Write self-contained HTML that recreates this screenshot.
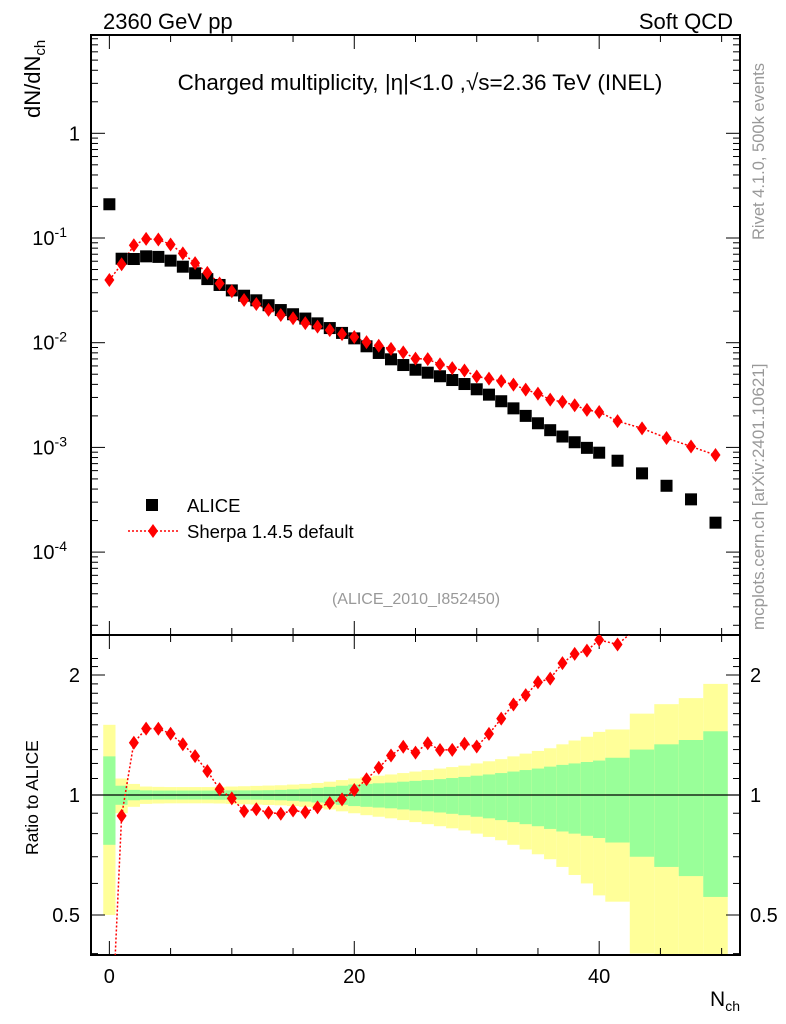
<!DOCTYPE html>
<html><head><meta charset="utf-8"><style>
html,body{margin:0;padding:0;background:#fff;overflow:hidden;width:786px;height:1024px;}
svg{display:block;font-family:"Liberation Sans",sans-serif;}
</style></head><body>
<svg id="chart" width="786" height="1024" viewBox="0 0 786 1024" xmlns="http://www.w3.org/2000/svg">
<g id="bands"></g>
<g id="grid"></g>
<g id="marks"></g>
<text x="103" y="29" font-size="22">2360 GeV pp</text>
<text x="733" y="29" font-size="22" text-anchor="end">Soft QCD</text>
<text x="420" y="90" font-size="22.5" text-anchor="middle">Charged multiplicity, |η|&lt;1.0 ,√s=2.36 TeV (INEL)</text>
<text x="416" y="604" font-size="16" fill="#999" text-anchor="middle">(ALICE_2010_I852450)</text>
<text transform="translate(764,240) rotate(-90)" font-size="16.5" fill="#999">Rivet 4.1.0,  500k events</text>
<text transform="translate(764,630) rotate(-90)" font-size="17" fill="#999">mcplots.cern.ch [arXiv:2401.10621]</text>
<text transform="translate(40,118) rotate(-90)" font-size="22">dN/dN<tspan font-size="15" dy="5">ch</tspan></text>
<text transform="translate(38,855) rotate(-90)" font-size="17.5">Ratio to ALICE</text>
<text x="725" y="1006" font-size="21" text-anchor="middle">N<tspan font-size="14" dy="5">ch</tspan></text>
<g>
<rect x="146" y="499" width="12" height="12" fill="#000"></rect>
<text x="187" y="512" font-size="18.5">ALICE</text>
<line x1="128" y1="531" x2="178" y2="531" stroke="red" stroke-width="1.5" stroke-dasharray="2,2"></line>
<polygon points="153,524 158,531 153,538 148,531" fill="red"></polygon>
<text x="187" y="538" font-size="18.5">Sherpa 1.4.5 default</text>
</g>
</svg>
<script>
const nch = [0,1,2,3,4,5,6,7,8,9,10,11,12,13,14,15,16,17,18,19,20,21,22,23,24,25,26,27,28,29,30,31,32,33,34,35,36,37,38,39,40,41.5,43.5,45.5,47.5,49.5];
const binWidth = [1,1,1,1,1,1,1,1,1,1,1,1,1,1,1,1,1,1,1,1,1,1,1,1,1,1,1,1,1,1,1,1,1,1,1,1,1,1,1,1,1,2,2,2,2,2];
const alice = [0.21,0.0634,0.063,0.0668,0.066,0.0608,0.0532,0.046,0.0405,0.0356,0.0316,0.0281,0.0254,0.0228,0.0205,0.0187,0.017,0.0153,0.0138,0.0124,0.011,0.00924,0.00798,0.00694,0.00612,0.00552,0.00517,0.00478,0.0044,0.00403,0.00359,0.00319,0.00276,0.00236,0.002,0.0017,0.00146,0.00127,0.00112,0.00099,0.00089,0.000746,0.000565,0.00043,0.000319,0.000191];
const sherpa = [0.0397,0.0562,0.0852,0.098,0.0968,0.0866,0.0713,0.0576,0.0465,0.0368,0.031,0.0256,0.0234,0.0206,0.0184,0.0171,0.0154,0.01424,0.01318,0.01209,0.01132,0.01012,0.00934,0.00872,0.00809,0.00705,0.00697,0.0062,0.00571,0.00542,0.00475,0.00454,0.00429,0.00398,0.00356,0.00326,0.00286,0.00272,0.00253,0.00228,0.00218,0.00178,0.00152,0.00123,0.00102,0.000845];
const errTotal = [0.5,0.1,0.066,0.05,0.048,0.047,0.047,0.047,0.047,0.048,0.05,0.052,0.054,0.056,0.058,0.062,0.066,0.072,0.08,0.09,0.1,0.11,0.118,0.126,0.135,0.145,0.155,0.165,0.175,0.185,0.2,0.215,0.23,0.25,0.27,0.29,0.31,0.34,0.37,0.4,0.44,0.46,0.6,0.69,0.75,0.9];
const errStat = [0.25,0.055,0.03,0.027,0.026,0.026,0.026,0.026,0.026,0.027,0.027,0.027,0.027,0.028,0.03,0.033,0.037,0.042,0.048,0.055,0.062,0.066,0.07,0.074,0.08,0.085,0.09,0.096,0.103,0.11,0.118,0.126,0.135,0.145,0.155,0.165,0.178,0.19,0.2,0.21,0.22,0.24,0.3,0.34,0.374,0.445];
const xTickLabels = [0,20,40];
const mainTickLabels = [["1",0],["10","-1"],["10","-2"],["10","-3"],["10","-4"]];
const ratioTickLabels = [2,1,0.5];

const NS="http://www.w3.org/2000/svg";
const L=91,R=740,T=35,MB=635,B=955;
const XMIN=-1.5,XMAX=51.5;
const x=v=>L+(v-XMIN)/(XMAX-XMIN)*(R-L);
const yM=v=>133.3-104.7*Math.log10(v);
const yR=r=>795-398.6*Math.log10(r);
function mk(tag,attrs,parent){const e=document.createElementNS(NS,tag);for(const k in attrs)e.setAttribute(k,attrs[k]);parent.appendChild(e);return e;}
const bands=document.getElementById('bands'),grid=document.getElementById('grid'),marks=document.getElementById('marks');
const clip=mk('clipPath',{id:'rclip'},document.getElementById('chart'));
mk('rect',{x:L,y:MB,width:R-L,height:B-MB},clip);
const clip2=mk('clipPath',{id:'mclip'},document.getElementById('chart'));
mk('rect',{x:L,y:T,width:R-L,height:MB-T},clip2);
bands.setAttribute('clip-path','url(#rclip)');
nch.forEach((v,i)=>{
  const x0=x(v-binWidth[i]/2),x1=x(v+binWidth[i]/2);
  const yt=yR(1+errTotal[i]),yb=yR(Math.max(1-errTotal[i],0.01));
  let r=mk('rect',{x:x0,y:yt,width:x1-x0,height:yb-yt,fill:'#ffff99'},bands);
  
  
  const gt=yR(1+errStat[i]),gb=yR(1-errStat[i]);
  r=mk('rect',{x:x0,y:gt,width:x1-x0,height:gb-gt,fill:'#99ff99'},bands);
  
  
});
[[T,MB],[MB,B]].forEach(([a,b],k)=>{
  const f=mk('rect',{x:L,y:a,width:R-L,height:b-a,fill:'none',stroke:'#000','stroke-width':2},grid);
  
  
});
const ln=(x1,y1,x2,y2,p,w)=>mk('line',{x1,y1,x2,y2,stroke:'#000','stroke-width':w||1},p);
for(let v=0;v<=50;v+=5){
  const big=v%20===0, len=big?14:7;
  [T,MB].forEach(t=>ln(x(v),t,x(v),t+len,grid));
  [MB,B].forEach(b=>ln(x(v),b,x(v),b-len,grid));
}
xTickLabels.forEach(v=>{const t=mk('text',{x:x(v),y:983,'font-size':20,'text-anchor':'middle'},grid);t.textContent=v;

});
for(let d=-5;d<=1;d++){for(let m=1;m<10;m++){const v=m*Math.pow(10,d);const yy=yM(v);if(yy<T||yy>MB)continue;const len=m===1?14:7;ln(L,yy,L+len,yy,grid);ln(R,yy,R-len,yy,grid);}}
mainTickLabels.forEach(([b,e])=>{
  const v=Math.pow(10,+e);const t=mk('text',{x:80,y:yM(v)+7,'font-size':20,'text-anchor':'end'},grid);
  if(e===0){t.textContent=b;}else{t.textContent=b;const s=mk('tspan',{dy:-8,'font-size':14},t);s.textContent=e;t.setAttribute('x',67);}
  
  
});
for(let r=0.4;r<=2.3;r+=0.1){const rr=Math.round(r*10)/10;const yy=yR(rr);if(yy<MB||yy>B)continue;const big=(rr===0.5||rr===1||rr===2);const len=big?14:7;ln(L,yy,L+len,yy,grid);ln(R,yy,R-len,yy,grid);}
ratioTickLabels.forEach(r=>{
  [[80,'end'],[750,'start']].forEach(([xx,a])=>{const t=mk('text',{x:xx,y:yR(r)+7,'font-size':20,'text-anchor':a},grid);t.textContent=r;
  
  });
});
ln(L,yR(1),R,yR(1),grid,1.3);
const mg=mk('g',{'clip-path':'url(#mclip)'},marks);
let pts=nch.map((v,i)=>x(v)+','+yM(sherpa[i])).join(' ');
let pl=mk('polyline',{points:pts,fill:'none',stroke:'red','stroke-width':1.5,'stroke-dasharray':'2,2'},mg);


nch.forEach((v,i)=>{
  const s=mk('rect',{x:x(v)-6,y:yM(alice[i])-6,width:12,height:12,fill:'#000'},mg);
  
  
});
nch.forEach((v,i)=>{
  const cx=x(v),cy=yM(sherpa[i]);
  const d=mk('polygon',{points:`${cx},${cy-7} ${cx+5},${cy} ${cx},${cy+7} ${cx-5},${cy}`,fill:'red'},mg);
  
  
});
const rg=mk('g',{'clip-path':'url(#rclip)'},marks);
pts=nch.map((v,i)=>x(v)+','+yR(sherpa[i]/alice[i])).join(' ');
pl=mk('polyline',{points:pts,fill:'none',stroke:'red','stroke-width':1.5,'stroke-dasharray':'2,2'},rg);


nch.forEach((v,i)=>{
  const cx=x(v),cy=yR(sherpa[i]/alice[i]);
  const d=mk('polygon',{points:`${cx},${cy-7} ${cx+5},${cy} ${cx},${cy+7} ${cx-5},${cy}`,fill:'red'},rg);
  
  
});
</script>
</body></html>
